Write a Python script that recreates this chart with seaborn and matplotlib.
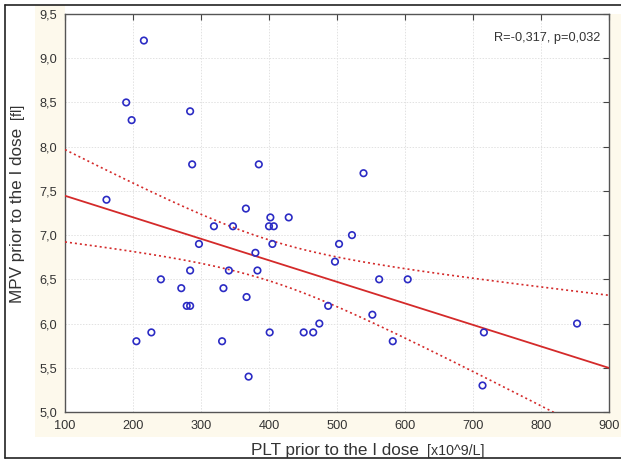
import numpy as np
import pandas as pd
import matplotlib
matplotlib.use("Agg")
import matplotlib.pyplot as plt
import seaborn as sns
from matplotlib.ticker import FuncFormatter
from matplotlib.patches import Rectangle
from matplotlib.lines import Line2D

# ---- data ----
plt_values = [216, 190, 198, 284, 287, 385, 161, 366, 402, 429, 319, 347, 400, 407,
              539, 297, 380, 405, 241, 284, 341, 383, 271, 333, 279, 284, 367, 205,
              227, 331, 401, 451, 370, 465, 474, 487, 497, 503, 522, 562, 604, 552,
              582, 716, 714, 853]
mpv_values = [9.2, 8.5, 8.3, 8.4, 7.8, 7.8, 7.4, 7.3, 7.2, 7.2, 7.1, 7.1, 7.1, 7.1,
              7.7, 6.9, 6.8, 6.9, 6.5, 6.6, 6.6, 6.6, 6.4, 6.4, 6.2, 6.2, 6.3, 5.8,
              5.9, 5.8, 5.9, 5.9, 5.4, 5.9, 6.0, 6.2, 6.7, 6.9, 7.0, 6.5, 6.5, 6.1,
              5.8, 5.9, 5.3, 6.0]
x_ticks = [100, 200, 300, 400, 500, 600, 700, 800, 900]
y_ticks = [5.0, 5.5, 6.0, 6.5, 7.0, 7.5, 8.0, 8.5, 9.0, 9.5]
stat_text = "R=-0,317, p=0,032"

df = pd.DataFrame({"PLT": plt_values, "MPV": mpv_values})

sns.set_theme(style="white")
plt.rcParams["font.family"] = ["Liberation Sans", "DejaVu Sans"]

W, H = 621, 461
fig = plt.figure(figsize=(W / 100, H / 100), dpi=100)
fig.patch.set_facecolor("white")

def fx(px):
    return px / W

def fy(py):
    return 1 - py / H

# cream background areas
cream = "#fdf9ec"
fig.patches.append(Rectangle((fx(35), fy(437)), fx(621) - fx(35), fy(14) - fy(437),
                             transform=fig.transFigure, facecolor=cream, edgecolor="none", zorder=-10))
fig.patches.append(Rectangle((fx(35), fy(14)), fx(65) - fx(35), fy(5) - fy(14),
                             transform=fig.transFigure, facecolor=cream, edgecolor="none", zorder=-10))
# outer frame lines
for (x0, y0, x1, y1) in [(5, 5, 621, 5), (5, 5, 5, 458), (5, 458, 621, 458)]:
    fig.lines.append(Line2D([fx(x0), fx(x1)], [fy(y0), fy(y1)], transform=fig.transFigure,
                            color="#222222", lw=1.2, zorder=-5))

ax = fig.add_axes([fx(65), fy(412), fx(609) - fx(65), fy(14) - fy(412)])
ax.set_zorder(2)
ax.set_facecolor("white")
ax.set_xlim(100, 900)
ax.set_ylim(5.0, 9.5)

# regression line
sns.regplot(data=df, x="PLT", y="MPV", ax=ax, ci=None, truncate=False,
            scatter=False, line_kws=dict(color="#d42a2a", lw=1.3, zorder=3))

# 95% confidence bounds of the fit (dotted)
x = np.asarray(plt_values, float)
y = np.asarray(mpv_values, float)
n = len(x)
b, a = np.polyfit(x, y, 1)
resid = y - (a + b * x)
s = np.sqrt(np.sum(resid ** 2) / (n - 2))
sxx = np.sum((x - x.mean()) ** 2)
xs = np.linspace(100, 900, 200)
se = s * np.sqrt(1 / n + (xs - x.mean()) ** 2 / sxx)
tval = 2.0154
fit = a + b * xs
ax.plot(xs, fit + tval * se, color="#d42a2a", lw=1.2, ls=(0, (1.2, 1.8)), zorder=3)
ax.plot(xs, fit - tval * se, color="#d42a2a", lw=1.2, ls=(0, (1.2, 1.8)), zorder=3)

# scatter points
sns.scatterplot(data=df, x="PLT", y="MPV", ax=ax, marker="o", s=22,
                facecolor="none", edgecolor="#2b2bc4", linewidth=1.2, zorder=4)

ax.set_xlim(100, 900)
ax.set_ylim(5.0, 9.5)
ax.set_xticks(x_ticks)
ax.set_yticks(y_ticks)
comma = FuncFormatter(lambda v, p: f"{v:.1f}".replace(".", ","))
ax.yaxis.set_major_formatter(comma)
ax.xaxis.set_major_formatter(FuncFormatter(lambda v, p: f"{int(v)}"))
ax.grid(True, color="#e2e2e2", lw=0.7, ls=(0, (1.5, 1.5)))
ax.set_axisbelow(True)
ax.tick_params(axis="both", direction="in", length=4, width=0.8, color="#444444",
               labelsize=9.2, labelcolor="#333333", top=True, right=True, pad=5.5)
for sp in ax.spines.values():
    sp.set_color("#555555")
    sp.set_linewidth(1.0)
ax.set_xlabel("")
ax.set_ylabel("")

ax.text(0.985, 0.955, stat_text, transform=ax.transAxes, ha="right", va="top",
        fontsize=9.2, color="#333333")

# axis labels (main part + smaller bracketed unit)
xl = fig.text(fx(251), fy(455), "PLT prior to the I dose", fontsize=12.3,
              ha="left", va="baseline", color="#333333")
ax.annotate("  [x10^9/L]", xy=(1, 0), xycoords=xl, ha="left", va="bottom",
            fontsize=10.3, color="#333333")
yl = fig.text(fx(25), fy(303), "MPV prior to the I dose", fontsize=12.3, rotation=90,
              ha="right", va="bottom", color="#333333")
ax.annotate("  [fl]", xy=(1, 1), xycoords=yl, ha="right", va="bottom",
            fontsize=10.3, rotation=90, color="#333333")

fig.savefig("out.png", dpi=100)
